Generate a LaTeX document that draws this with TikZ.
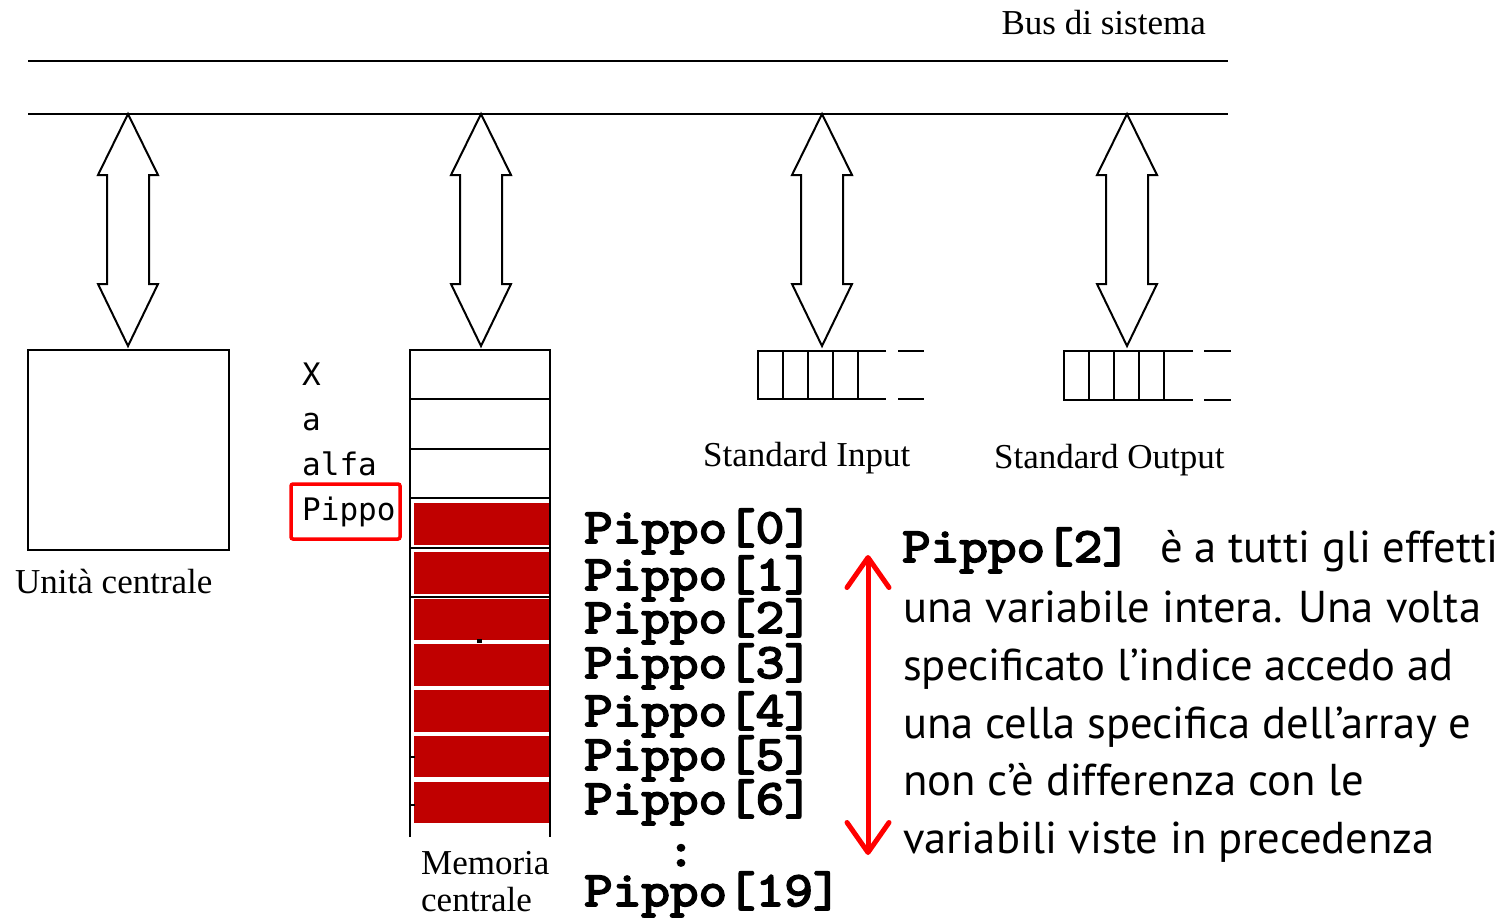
\documentclass[tikz,border=0pt]{standalone}
\usepackage{fontspec}
\setmainfont{Liberation Serif}
\newfontfamily\dmono{DejaVu Sans Mono}
\newfontfamily\tsans{PT Sans}
\newfontfamily\courb[FakeBold=3.5,FakeStretch=1.1]{lmmono10-regular.otf}
\usetikzlibrary{arrows.meta}
\definecolor{cellred}{RGB}{192,0,0}
\definecolor{brightred}{RGB}{255,0,0}
\tikzset{
  bus/.style={line width=2.5pt},
  blockarrow/.style={line width=2pt, fill=white, line join=miter},
  outline/.style={line width=2.5pt},
  serifl/.style={font=\fontsize{35}{40}\selectfont, inner sep=0pt},
  varl/.style={font=\dmono\fontsize{31}{36}\selectfont, inner sep=0pt, anchor=base west},
  arrl/.style={font=\courb\fontsize{49.5}{54}\selectfont, inner sep=0pt, anchor=base west},
  expl/.style={font=\tsans\fontsize{44.6}{58}\selectfont, inner sep=0pt, anchor=base west},
  cell/.style={fill=cellred},
}
\begin{document}
\begin{tikzpicture}[x=1pt,y=-1pt]
\useasboundingbox (0,0) rectangle (1509,918);
% bus
\coordinate (b1l) at (28,61); \coordinate (b1r) at (1228,61);
\coordinate (b2l) at (28,114); \coordinate (b2r) at (1228,114);
\draw[bus] (b1l) -- (b1r);
\draw[bus] (b2l) -- (b2r);
\node[serifl, anchor=base east] (busname) at (1206,34) {Bus di sistema};
% block arrows
\foreach \c in {128,481,822,1127}{
  \draw[blockarrow] (\c,114) -- (\c+30,175) -- (\c+21,175) -- (\c+21,284) -- (\c+30,284)
     -- (\c,346) -- (\c-30,284) -- (\c-21,284) -- (\c-21,175) -- (\c-30,175) -- cycle;
}
% CPU
\draw[outline] (28,350) rectangle (229,550);
\node[serifl, anchor=base west] (cpul) at (15,593) {Unità centrale};
% variable names
\node[varl] (vx) at (302,385) {X};
\node[varl] (va) at (302,430) {a};
\node[varl] (valfa) at (302,475) {alfa};
\node[varl] (vpippo) at (302,520) {Pippo};
\draw[brightred, line width=3.5pt, rounded corners=2pt] (291,484) rectangle (400,539);
% memory
\draw[outline] (410,837) -- (410,350) -- (550,350) -- (550,837);
\foreach \y in {399,449,498,548,597}{ \draw[outline] (410,\y) -- (550,\y); }
\fill[cell] (414,503) rectangle (549,545);
\fill[cell] (414,552) rectangle (549,594);
\fill[cell] (414,599) rectangle (549,640);
\fill[cell] (414,644) rectangle (549,686);
\fill[cell] (414,690) rectangle (549,732);
\fill[cell] (414,736) rectangle (549,777);
\fill[cell] (414,782) rectangle (549,823);
\draw[line width=2pt] (410,757) -- (415,757);
\draw[line width=2pt] (410,805) -- (415,805);
\fill (477,639) rectangle (482,643);
\node[serifl, anchor=base west] (meml1) at (421,874) {Memoria};
\node[serifl, anchor=base west] (meml2) at (421,911) {centrale};
% standard input
\draw[outline] (886,351) -- (758,351) -- (758,399) -- (886,399);
\foreach \x in {783,808,833,858}{ \draw[outline] (\x,351) -- (\x,399); }
\draw[outline] (898,351) -- (924,351);
\draw[outline] (898,399) -- (924,399);
\node[serifl, anchor=base west] (sin) at (703,466) {Standard Input};
% standard output
\draw[outline] (1193,351) -- (1064,351) -- (1064,400) -- (1193,400);
\foreach \x in {1089,1114,1139,1164}{ \draw[outline] (\x,351) -- (\x,400); }
\draw[outline] (1204,351) -- (1231,351);
\draw[outline] (1204,400) -- (1231,400);
\node[serifl, anchor=base west] (sout) at (994,468) {Standard Output};
% array labels
\node[arrl] (p0) at (584,543) {Pippo[0]};
\node[arrl] (p1) at (584,590) {Pippo[1]};
\node[arrl] (p2) at (584,633) {Pippo[2]};
\node[arrl] (p3) at (584,678) {Pippo[3]};
\node[arrl] (p4) at (584,726) {Pippo[4]};
\node[arrl] (p5) at (584,770) {Pippo[5]};
\node[arrl] (p6) at (584,814) {Pippo[6]};
\node[arrl, anchor=base] (pdots) at (681,866) {:};
\node[arrl] (p19) at (584,906) {Pippo[19]};
% red arrow
\coordinate (ra) at (868,555);
\coordinate (rb) at (868,855);
\draw[brightred, line width=5pt, {Straight Barb[round,length=30pt,width=42pt]}-{Straight Barb[round,length=30pt,width=42pt]}] (ra) -- (rb);
% explanation
\node[arrl] (e0) at (902,562) {Pippo[2]};
\node[expl] (e1) at (1160,562) {è a tutti gli effetti};
\node[expl] (e2) at (903,622) {una variabile intera. Una volta};
\node[expl] (e3) at (903,680) {specificato l’indice accedo ad};
\node[expl] (e4) at (903,738) {una cella specifica dell’array e};
\node[expl] (e5) at (903,795) {non c’è differenza con le};
\node[expl] (e6) at (903,853) {variabili viste in precedenza};
\end{tikzpicture}
\end{document}
